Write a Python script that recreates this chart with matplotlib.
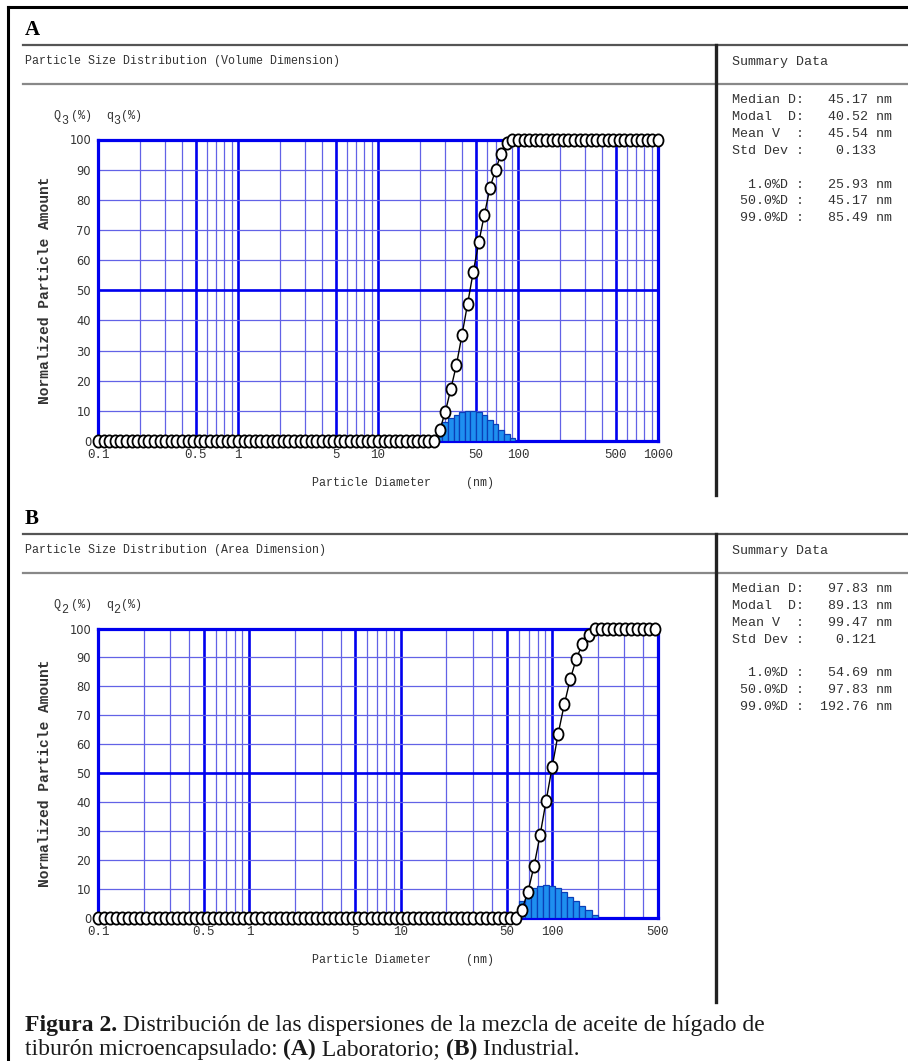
import matplotlib
matplotlib.use('Agg')
import matplotlib.pyplot as plt
from matplotlib.ticker import LogLocator, NullFormatter
from matplotlib.path import Path
from matplotlib.transforms import Affine2D

# instrument size channels (nm), shared by both panels
channel_nm = [
    0.1000, 0.1096, 0.1202, 0.1318, 0.1445, 0.1585, 0.1738, 0.1905, 0.2089, 0.2291,
    0.2512, 0.2754, 0.3020, 0.3311, 0.3631, 0.3981, 0.4365, 0.4786, 0.5248, 0.5754,
    0.6310, 0.6918, 0.7586, 0.8318, 0.9120,
    1.000, 1.096, 1.202, 1.318, 1.445, 1.585, 1.738, 1.905, 2.089, 2.291,
    2.512, 2.754, 3.020, 3.311, 3.631, 3.981, 4.365, 4.786, 5.248, 5.754,
    6.310, 6.918, 7.586, 8.318, 9.120,
    10.00, 10.96, 12.02, 13.18, 14.45, 15.85, 17.38, 19.05, 20.89, 22.91,
    25.12, 27.54, 30.20, 33.11, 36.31, 39.81, 43.65, 47.86, 52.48, 57.54,
    63.10, 69.18, 75.86, 83.18, 91.20,
    100.0, 109.6, 120.2, 131.8, 144.5, 158.5, 173.8, 190.5, 208.9, 229.1,
    251.2, 275.4, 302.0, 331.1, 363.1, 398.1, 436.5, 478.6, 524.8, 575.4,
    631.0, 691.8, 758.6, 831.8, 912.0,
    1000.0,
]

# A: volume distribution, cumulative Q3 (%)
cum_A = [
    0, 0, 0, 0, 0, 0, 0, 0, 0, 0, 0, 0, 0, 0, 0, 0, 0, 0, 0, 0,
    0, 0, 0, 0, 0, 0, 0, 0, 0, 0, 0, 0, 0, 0, 0, 0, 0, 0, 0, 0,
    0, 0, 0, 0, 0, 0, 0, 0, 0, 0, 0, 0, 0, 0, 0, 0, 0, 0, 0, 0, 0,
    3.5, 9.5, 17.2, 25.2, 35.2, 45.5, 56.0, 65.9, 75.1, 84.0, 90.0, 95.3, 98.9,
    100, 100, 100, 100, 100, 100, 100, 100, 100, 100, 100, 100, 100, 100,
    100, 100, 100, 100, 100, 100, 100, 100, 100, 100, 100, 100, 100,
]
hist_A_nm = [27.54, 30.20, 33.11, 36.31, 39.81, 43.65, 47.86, 52.48, 57.54,
             63.10, 69.18, 75.86, 83.18, 91.20]
hist_A_pct = [4.5, 6.2, 7.6, 8.7, 9.6, 10.0, 9.9, 9.5, 8.6, 7.0, 5.6, 3.8, 2.2, 1.0]

# B: area distribution, cumulative Q2 (%)
cum_B = [
    0, 0, 0, 0, 0, 0, 0, 0, 0, 0, 0, 0, 0, 0, 0, 0, 0, 0, 0, 0,
    0, 0, 0, 0, 0, 0, 0, 0, 0, 0, 0, 0, 0, 0, 0, 0, 0, 0, 0, 0,
    0, 0, 0, 0, 0, 0, 0, 0, 0, 0, 0, 0, 0, 0, 0, 0, 0, 0, 0, 0,
    0, 0, 0, 0, 0, 0, 0, 0, 0, 0,
    2.8, 9.1, 17.9, 28.6, 40.5, 52.2, 63.7, 73.8, 82.6, 89.6, 94.7, 97.9,
    100, 100, 100, 100, 100, 100, 100, 100, 100, 100, 100,
]
hist_B_nm = [63.10, 69.18, 75.86, 83.18, 91.20, 100.0, 109.6, 120.2, 131.8,
             144.5, 158.5, 173.8, 190.5]
hist_B_pct = [6.0, 8.8, 10.4, 11.2, 11.5, 11.2, 10.3, 9.0, 7.3, 5.7, 4.2, 2.7, 1.2]

xticks_A = [0.1, 0.5, 1, 5, 10, 50, 100, 500, 1000]
xticks_B = [0.1, 0.5, 1, 5, 10, 50, 100, 500]
yticks = [0, 10, 20, 30, 40, 50, 60, 70, 80, 90, 100]

summary_A = ["Median D:   45.17 nm", "Modal  D:   40.52 nm", "Mean V  :   45.54 nm",
             "Std Dev :    0.133", "  1.0%D :   25.93 nm", " 50.0%D :   45.17 nm",
             " 99.0%D :   85.49 nm"]
summary_B = ["Median D:   97.83 nm", "Modal  D:   89.13 nm", "Mean V  :   99.47 nm",
             "Std Dev :    0.121", "  1.0%D :   54.69 nm", " 50.0%D :   97.83 nm",
             " 99.0%D :  192.76 nm"]

MONO = 'Liberation Mono'
SERIF = 'Liberation Serif'
TXT = '#333333'
BLUE = '#0000ee'
GRIDC = '#6262e6'

W, H = 908, 1061
fig = plt.figure(figsize=(W / 100, H / 100), dpi=100)
bg = fig.add_axes([0, 0, 1, 1])
bg.set_xlim(0, W)
bg.set_ylim(H, 0)
bg.axis('off')

# outer frame (left and top visible)
bg.plot([8, 8], [7, H], color='black', lw=2.2)
bg.plot([8, W], [7, 7], color='black', lw=2.2)

bin_ratio = 1.0471  # half channel width on log scale
oval = Path.unit_circle().transformed(Affine2D().scale(0.82, 1.0))


def panel(tag, dy, title, sub, bottom, cum, hnm, hq, xmax, xticks, summary, vbar_end):
    bg.text(25, 30 + dy, tag, fontsize=15, fontweight='bold', family=SERIF,
            va='center', ha='left', color='black')
    bg.plot([23, W], [45 + dy, 45 + dy], color='#555555', lw=1.6)
    bg.plot([23, W], [84 + dy, 84 + dy], color='#888888', lw=1.6)
    bg.plot([716, 716], [45 + dy, vbar_end], color='#222222', lw=2.4)
    bg.text(25, 61 + dy, title, family=MONO, fontsize=8.4, color=TXT, va='center')
    bg.text(732, 62 + dy, "Summary Data", family=MONO, fontsize=9.6, color=TXT, va='center')
    rows = [0, 1, 2, 3, 5, 6, 7]
    for r, line in zip(rows, summary):
        bg.text(732, 100 + dy + r * 16.9, line, family=MONO, fontsize=9.6,
                color=TXT, va='center')
    # Q_n (%) q_n(%) header, subscript drawn full size and lowered
    for s, x, off in [("Q", 53, 0), (sub, 61, 5), ("(%)", 71, 0),
                      ("q", 106, 0), (sub, 113, 5), ("(%)", 121, 0)]:
        bg.text(x, 116 + dy + off, s, family=MONO, fontsize=8.5, color=TXT, va='center')
    top = 139.5 + dy
    bg.text(45, (top + bottom) / 2, "Normalized Particle Amount", family=MONO,
            fontsize=10.5, fontweight='bold', rotation=90, color=TXT,
            va='center', ha='center')
    bg.text(312, bottom + 42, "Particle Diameter     (nm)", family=MONO,
            fontsize=8.4, color=TXT, va='center')

    ax = fig.add_axes([98 / W, 1 - bottom / H, 560 / W, (bottom - top) / H])
    ax.set_xscale('log')
    ax.set_xlim(0.1, xmax)
    ax.set_ylim(0, 100)
    ax.xaxis.set_minor_locator(LogLocator(base=10, subs=(2, 3, 4, 6, 7, 8, 9), numticks=20))
    ax.xaxis.set_minor_formatter(NullFormatter())
    ax.set_xticks(xticks)
    ax.set_xticklabels([f"{t:g}" for t in xticks], family=MONO, fontsize=9, color=TXT)
    ax.set_yticks(yticks)
    ax.set_yticklabels([str(t) for t in yticks], family='DejaVu Sans', fontsize=8.3, color=TXT)
    ax.tick_params(which='both', length=0)
    ax.tick_params(axis='x', pad=6)
    ax.tick_params(axis='y', pad=5)
    ax.grid(axis='x', which='minor', color=GRIDC, lw=0.9)
    ax.grid(axis='x', which='major', color=BLUE, lw=1.9)
    ax.grid(axis='y', which='major', color=GRIDC, lw=0.9)
    ax.axhline(50, color=BLUE, lw=1.9)
    ax.set_axisbelow(True)
    for s in ax.spines.values():
        s.set_color(BLUE)
        s.set_linewidth(2.3)

    left = [d / bin_ratio for d in hnm]
    width = [d * bin_ratio - d / bin_ratio for d in hnm]
    ax.bar(left, hq, width=width, align='edge', color='#1e8ff0',
           edgecolor='#0b3fb8', lw=0.9, zorder=3)
    ax.plot(channel_nm[:len(cum)], cum, '-', color='black', lw=1.0, marker=oval,
            ms=8.8, mfc='white', mec='black', mew=1.3, clip_on=False, zorder=5)
    return ax


panel('A', 0, "Particle Size Distribution (Volume Dimension)", "3", 441,
      cum_A, hist_A_nm, hist_A_pct, 1000, xticks_A, summary_A, 495)
panel('B', 489, "Particle Size Distribution (Area Dimension)", "2", 918,
      cum_B, hist_B_nm, hist_B_pct, 500, xticks_B, summary_B, 1002)


# caption with mixed bold / regular runs
def rich_line(x, y, parts, size=17):
    t = bg.text(x, y, parts[0][0], family=SERIF, fontsize=size,
                fontweight=parts[0][1], color='#1a1a1a', va='baseline')
    for s, w in parts[1:]:
        t = bg.annotate(s, xy=(1, 0), xycoords=t, va='bottom', family=SERIF,
                        fontsize=size, fontweight=w, color='#1a1a1a')


rich_line(25, 1031, [("Figura 2.", 'bold'),
                     (" Distribución de las dispersiones de la mezcla de aceite de hígado de", 'normal')])
rich_line(25, 1055, [("tiburón microencapsulado: ", 'normal'), ("(A)", 'bold'),
                     (" Laboratorio; ", 'normal'), ("(B)", 'bold'), (" Industrial.", 'normal')])

fig.savefig('out.png', dpi=100)
